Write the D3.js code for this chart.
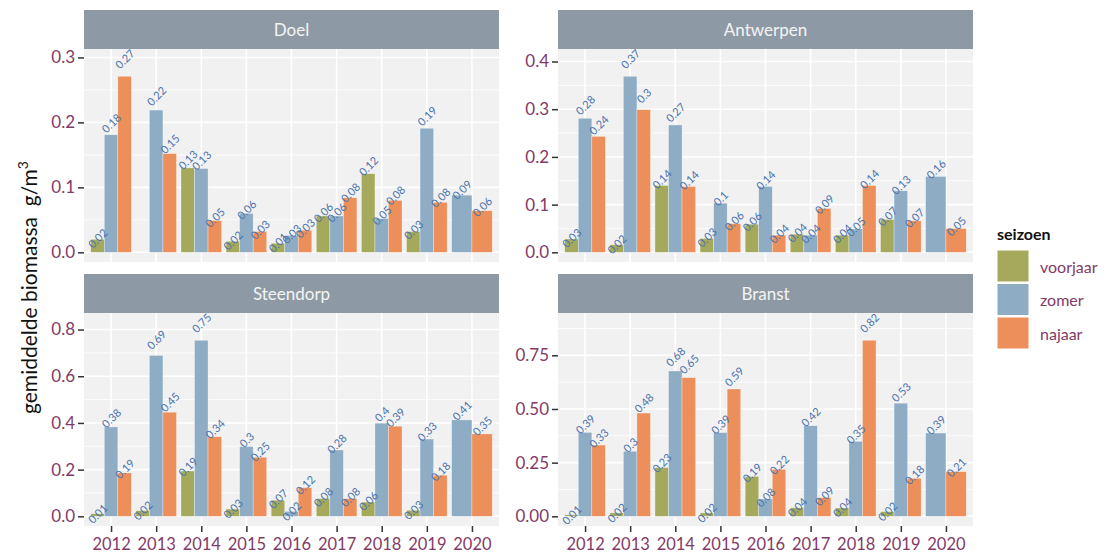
<!DOCTYPE html>
<html>
<head>
<meta charset="utf-8">
<script src="https://cdn.jsdelivr.net/npm/d3@7/dist/d3.min.js"></script>
<style>
  html, body { margin: 0; padding: 0; background: #ffffff; }
  svg { display: block; font-family: Lato, "Open Sans", sans-serif; }
</style>
</head>
<body>
<svg id="chart" width="1108" height="555"></svg>
<script>
// Mean biomass (g/m³) per site, season and year.
// null = season sampled but no value; voorjaar was not sampled in 2020.
const years = ["2012", "2013", "2014", "2015", "2016", "2017", "2018", "2019", "2020"];
const seasons = ["voorjaar", "zomer", "najaar"];
const sites = ["Doel", "Antwerpen", "Steendorp", "Branst"];

const doelVoorjaar = [0.020, null, 0.130, 0.017, 0.014, 0.056, 0.121, 0.032];
const doelZomer    = [0.181, 0.219, 0.129, 0.060, 0.026, 0.056, 0.052, 0.191, 0.088];
const doelNajaar   = [0.271, 0.152, 0.049, 0.032, 0.034, 0.084, 0.080, 0.077, 0.064];

const antwerpenVoorjaar = [0.028, 0.016, 0.140, 0.029, 0.059, 0.038, 0.036, 0.069];
const antwerpenZomer    = [0.281, 0.369, 0.267, 0.103, 0.138, 0.036, 0.049, 0.129, 0.159];
const antwerpenNajaar   = [0.243, 0.299, 0.138, 0.060, 0.036, 0.092, 0.140, 0.066, 0.050];

const steendorpVoorjaar = [0.011, 0.024, 0.194, 0.031, 0.069, 0.076, 0.061, 0.026];
const steendorpZomer    = [0.383, 0.689, 0.754, 0.299, 0.021, 0.284, 0.399, 0.331, 0.413];
const steendorpNajaar   = [0.186, 0.446, 0.341, 0.253, 0.123, 0.076, 0.386, 0.176, 0.353];

const branstVoorjaar = [0.007, 0.016, 0.227, 0.016, 0.186, 0.040, 0.039, 0.022];
const branstZomer    = [0.391, 0.303, 0.677, 0.390, 0.081, 0.422, 0.349, 0.527, 0.388];
const branstNajaar   = [0.332, 0.481, 0.646, 0.593, 0.219, 0.087, 0.820, 0.177, 0.208];

const yTicks = {
  Doel: [0, 0.1, 0.2, 0.3],
  Antwerpen: [0, 0.1, 0.2, 0.3, 0.4],
  Steendorp: [0, 0.2, 0.4, 0.6, 0.8],
  Branst: [0, 0.25, 0.5, 0.75]
};
const yTickFormat = { Doel: ".1f", Antwerpen: ".1f", Steendorp: ".1f", Branst: ".2f" };

const seriesBySite = {
  Doel: [doelVoorjaar, doelZomer, doelNajaar],
  Antwerpen: [antwerpenVoorjaar, antwerpenZomer, antwerpenNajaar],
  Steendorp: [steendorpVoorjaar, steendorpZomer, steendorpNajaar],
  Branst: [branstVoorjaar, branstZomer, branstNajaar]
};

const seasonColor = d3.scaleOrdinal().domain(seasons).range(["#a4a95b", "#8eadc5", "#ec8f5b"]);
const textColor = "#833a67";
const labelColor = "#4a72ad";
const labelLift = 1.1;   // value labels sit a little above each bar

const svg = d3.select("#chart");

// facet grid
const colX = [84, 558];
const panelW = 415;
const stripH = 39;
const rowTop = [10, 274];
const panelH = 213;

// bar rows with dodge slots per year
function rowsFor(site) {
  const rows = [];
  years.forEach((yr, i) => {
    const present = seasons.filter((s, k) => i < seriesBySite[site][k].length);
    present.forEach((s, j) => {
      const k = seasons.indexOf(s);
      rows.push({ year: yr, season: s, value: seriesBySite[site][k][i], slot: j, nSlots: present.length });
    });
  });
  return rows;
}

sites.forEach((site, idx) => {
  const col = idx % 2, row = Math.floor(idx / 2);
  const x0 = colX[col], top = rowTop[row];
  const py = top + stripH;
  const g = svg.append("g");

  const rows = rowsFor(site);
  const valid = rows.filter(d => d.value != null);
  const yMax = d3.max(valid, d => d.value * labelLift);
  const pad = yMax * 0.05;

  // discrete x with 0.6-unit expansion on each side
  const unit = panelW / (years.length - 1 + 1.2);
  const x = d3.scalePoint().domain(years).range([x0 + unit * 0.6, x0 + panelW - unit * 0.6]);
  const y = d3.scaleLinear().domain([-pad, yMax + pad]).range([py + panelH, py]);

  // strip
  g.append("rect").attr("x", x0).attr("y", top).attr("width", panelW).attr("height", stripH)
    .attr("fill", "#8d9aa5");
  g.append("text").attr("x", x0 + panelW / 2).attr("y", top + stripH / 2)
    .attr("text-anchor", "middle").attr("dominant-baseline", "central")
    .attr("fill", "#f4f4f4").attr("font-size", 17).text(site);

  // panel background and grid
  g.append("rect").attr("x", x0).attr("y", py).attr("width", panelW).attr("height", panelH)
    .attr("fill", "#f1f1f1");
  const ticks = yTicks[site];
  const step = ticks[1] - ticks[0];
  const minor = d3.range(ticks.length + 1).map(i => ticks[0] + step * (i - 0.5))
    .filter(v => v >= -pad && v <= yMax + pad);
  g.selectAll(".minor").data(minor).enter().append("line")
    .attr("x1", x0).attr("x2", x0 + panelW).attr("y1", d => y(d)).attr("y2", d => y(d))
    .attr("stroke", "#ffffff").attr("stroke-width", 0.8);
  g.selectAll(".major").data(ticks).enter().append("line")
    .attr("x1", x0).attr("x2", x0 + panelW).attr("y1", d => y(d)).attr("y2", d => y(d))
    .attr("stroke", "#ffffff").attr("stroke-width", 1.6);
  g.selectAll(".vmajor").data(years).enter().append("line")
    .attr("x1", d => x(d)).attr("x2", d => x(d)).attr("y1", py).attr("y2", py + panelH)
    .attr("stroke", "#ffffff").attr("stroke-width", 1.6);

  // bars
  const bandW = unit * 0.9;
  const barX = d => x(d.year) - bandW / 2 + d.slot * bandW / d.nSlots;
  g.selectAll(".bar").data(valid).enter().append("rect")
    .attr("x", barX)
    .attr("width", d => bandW / d.nSlots)
    .attr("y", d => y(d.value))
    .attr("height", d => y(0) - y(d.value))
    .attr("fill", d => seasonColor(d.season))
    .attr("stroke", "#ffffff").attr("stroke-opacity", 0.5).attr("stroke-width", 0.6);

  // value labels
  g.selectAll(".lbl").data(valid).enter().append("text")
    .attr("transform", d => `translate(${barX(d) + bandW / d.nSlots / 2},${y(d.value * labelLift)}) rotate(-45)`)
    .attr("text-anchor", "middle").attr("dominant-baseline", "central")
    .attr("fill", labelColor).attr("font-size", 11)
    .text(d => String(Math.round(d.value * 100) / 100));

  // y axis
  const yAxis = d3.axisLeft(y).tickValues(ticks).tickFormat(d3.format(yTickFormat[site]))
    .tickSize(6).tickPadding(3);
  const ya = g.append("g").attr("transform", `translate(${x0},0)`).call(yAxis);
  ya.select(".domain").remove();
  ya.selectAll("line").attr("stroke", "#333333").attr("stroke-width", 1.5);
  ya.selectAll("text").attr("fill", textColor).attr("font-size", 17).attr("font-family", "Lato, sans-serif");

  // x axis only on the bottom row
  if (row === 1) {
    const xAxis = d3.axisBottom(x).tickSize(6).tickPadding(6);
    const xa = g.append("g").attr("transform", `translate(0,${py + panelH})`).call(xAxis);
    xa.select(".domain").remove();
    xa.selectAll("line").attr("stroke", "#333333").attr("stroke-width", 1.5);
    xa.selectAll("text").attr("fill", textColor).attr("font-size", 16.5).attr("font-family", "Lato, sans-serif");
  }
});

// y-axis title
const yt = svg.append("text")
  .attr("transform", `translate(37,${(rowTop[0] + stripH + rowTop[1] + stripH + panelH) / 2}) rotate(-90)`)
  .attr("text-anchor", "middle").attr("fill", "#111111").attr("font-size", 21)
  .style("white-space", "pre");
yt.append("tspan").text("gemiddelde biomassa  g/m");
yt.append("tspan").attr("dy", -9).attr("font-size", 14).text("3");

// legend
const lg = svg.append("g").attr("transform", "translate(997,0)");
lg.append("text").attr("x", 0).attr("y", 240).attr("font-size", 16).attr("font-weight", "bold")
  .attr("fill", "#111111").text("seizoen");
seasons.forEach((s, i) => {
  lg.append("rect").attr("x", 0).attr("y", 250 + i * 33.5).attr("width", 32).attr("height", 32)
    .attr("fill", seasonColor(s)).attr("stroke", "#ffffff").attr("stroke-width", 1);
  lg.append("text").attr("x", 43).attr("y", 250 + i * 33.5 + 16).attr("dominant-baseline", "central")
    .attr("font-size", 16).attr("fill", textColor).text(s);
});
</script>
</body>
</html>
